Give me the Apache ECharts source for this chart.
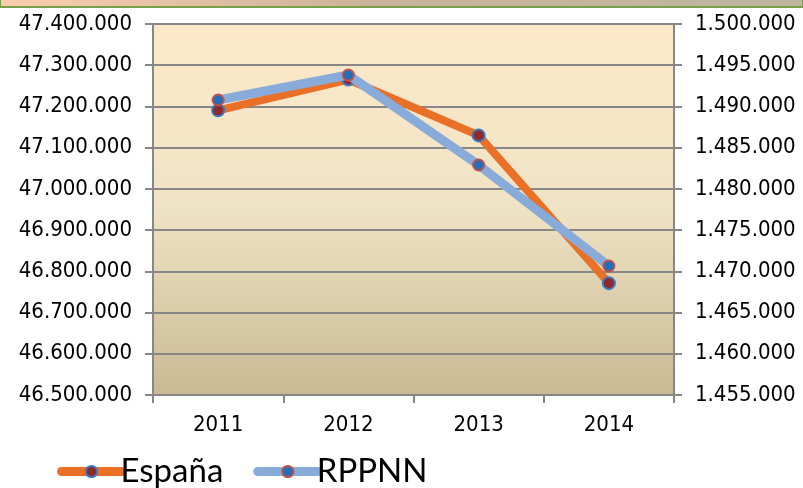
<!DOCTYPE html>
<html>
<head>
<meta charset="utf-8">
<script src="https://cdn.jsdelivr.net/npm/echarts@6/dist/echarts.min.js"></script>
<style>
html,body{margin:0;padding:0;background:#fff;}
#main{width:803px;height:488px;}
</style>
</head>
<body>
<div id="main"></div>
<script>
// datos
var years = ['2011', '2012', '2013', '2014'];
var espana = [47190493, 47265321, 47129783, 46771341];
var rppnn = [1490780, 1493810, 1482900, 1470650];
var series_names = ['España', 'RPPNN'];

var myChart = echarts.init(document.getElementById('main'));
var grey = '#878787';
var tickFont = 'DejaVu Sans Condensed';

// miles con punto
function fmt(v){
    return String(Math.round(v)).replace(/\B(?=(\d{3})+(?!\d))/g, '.');
}

var option = {
    animation: false,
    backgroundColor: '#fff',
    graphic: [{
        // franja del titulo cortada arriba
        type: 'rect',
        shape: {x: 0, y: -20, width: 803, height: 27},
        style: {
            fill: new echarts.graphic.LinearGradient(0, 0, 1, 0, [
                {offset: 0, color: '#fbcdae'},
                {offset: 0.45, color: '#ccb49b'},
                {offset: 1, color: '#bdb59f'}
            ]),
            stroke: '#76a04a',
            lineWidth: 2
        }
    }],
    grid: {
        left: 153, right: 129, top: 24, bottom: 93,
        show: true,
        borderWidth: 0,
        backgroundColor: new echarts.graphic.LinearGradient(0, 0, 0, 1, [
            {offset: 0, color: '#fde9c9'},
            {offset: 0.5, color: '#efe3c5'},
            {offset: 1, color: '#c9b992'}
        ])
    },
    legend: {
        left: 57, top: 455, padding: 0,
        itemWidth: 60, itemHeight: 14, itemGap: 30,
        data: [
            {name: series_names[0], lineStyle: {width: 9, cap: 'round'}},
            {name: series_names[1], lineStyle: {width: 9, cap: 'round'}}
        ],
        textStyle: {fontFamily: 'Lato', fontSize: 33, color: '#000', padding: [0, 0, 0, -6]}
    },
    xAxis: {
        type: 'category',
        data: years,
        boundaryGap: true,
        axisLine: {lineStyle: {color: grey, width: 2}},
        axisTick: {show: true, length: 8, lineStyle: {color: grey, width: 2}},
        axisLabel: {fontFamily: tickFont, fontSize: 22, color: '#000', margin: 19}
    },
    yAxis: [{
        type: 'value',
        min: 46500000, max: 47400000, interval: 100000,
        axisLine: {show: true, lineStyle: {color: grey, width: 2}},
        axisTick: {show: true, length: 8, lineStyle: {color: grey, width: 2}},
        splitLine: {lineStyle: {color: grey, width: 2}},
        axisLabel: {fontFamily: tickFont, fontSize: 22, color: '#000', margin: 21, formatter: fmt}
    }, {
        type: 'value',
        min: 1455000, max: 1500000, interval: 5000,
        axisLine: {show: true, lineStyle: {color: grey, width: 2}},
        axisTick: {show: true, length: 8, lineStyle: {color: grey, width: 2}},
        splitLine: {show: false},
        axisLabel: {fontFamily: tickFont, fontSize: 22, color: '#000', margin: 21, formatter: fmt}
    }],
    series: [{
        name: series_names[0],
        type: 'line',
        yAxisIndex: 0,
        data: espana,
        z: 2,
        symbol: 'circle',
        symbolSize: 12,
        lineStyle: {color: '#e97026', width: 8},
        itemStyle: {color: '#8b2a2a', borderColor: '#3b78c0', borderWidth: 2}
    }, {
        name: series_names[1],
        type: 'line',
        yAxisIndex: 1,
        data: rppnn,
        z: 3,
        symbol: 'circle',
        symbolSize: 11,
        lineStyle: {color: '#88abd9', width: 9},
        itemStyle: {color: '#1f6fba', borderColor: '#c0504d', borderWidth: 2}
    }]
};
myChart.setOption(option);
</script>
</body>
</html>
